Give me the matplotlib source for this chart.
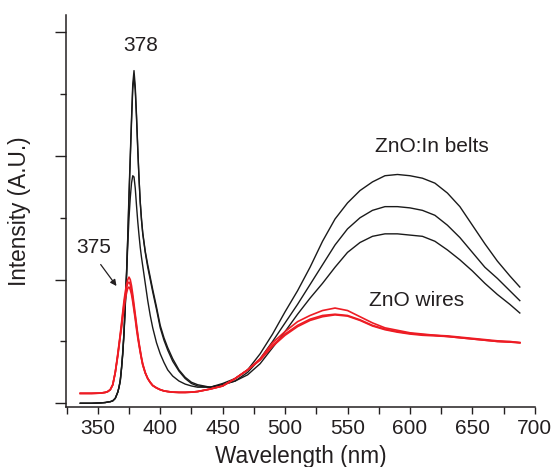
import matplotlib
matplotlib.use("Agg")
import matplotlib.pyplot as plt
from matplotlib.ticker import MultipleLocator

plt.rcParams['font.family'] = ['Liberation Sans', 'DejaVu Sans']

wavelength = [336, 345, 352, 356, 358, 360, 362, 364, 366, 367,
              368, 369, 370, 371, 372, 373, 374, 375, 376, 377,
              378, 379, 380, 381, 382, 383, 384, 385, 386, 388,
              390, 392, 394, 397, 400, 403, 406, 410, 415, 420,
              425, 430, 440, 450, 460, 470, 480, 490, 500, 510,
              520, 530, 540, 550, 560, 570, 580, 590, 600, 610,
              620, 630, 640, 650, 660, 670, 680, 688]

belt_a = [0.0, 0.0, 0.003, 0.006, 0.01, 0.013, 0.02, 0.04, 0.09, 0.13,
          0.18, 0.28, 0.40, 0.57, 0.80, 1.05, 1.35, 1.70, 2.00, 2.30,
          2.58, 2.69, 2.56, 2.33, 2.07, 1.82, 1.62, 1.48, 1.37, 1.22,
          1.10, 1.00, 0.90, 0.76, 0.61, 0.51, 0.43, 0.34, 0.26, 0.20,
          0.16, 0.14, 0.13, 0.16, 0.20, 0.27, 0.40, 0.56, 0.74, 0.91,
          1.10, 1.31, 1.49, 1.62, 1.72, 1.79, 1.84, 1.85, 1.84, 1.82,
          1.78, 1.70, 1.59, 1.44, 1.29, 1.15, 1.03, 0.94]

belt_b = [0.0, 0.0, 0.003, 0.006, 0.01, 0.013, 0.02, 0.04, 0.09, 0.13,
          0.19, 0.29, 0.42, 0.58, 0.80, 1.04, 1.33, 1.66, 1.97, 2.27,
          2.54, 2.64, 2.53, 2.31, 2.05, 1.82, 1.63, 1.49, 1.38, 1.23,
          1.12, 1.02, 0.92, 0.78, 0.63, 0.53, 0.45, 0.36, 0.27, 0.21,
          0.17, 0.15, 0.13, 0.15, 0.18, 0.25, 0.36, 0.50, 0.65, 0.80,
          0.96, 1.12, 1.28, 1.41, 1.50, 1.56, 1.59, 1.59, 1.58, 1.56,
          1.52, 1.44, 1.34, 1.22, 1.10, 1.01, 0.91, 0.83]

belt_c = [0.0, 0.0, 0.003, 0.006, 0.01, 0.013, 0.02, 0.04, 0.09, 0.13,
          0.18, 0.28, 0.40, 0.56, 0.78, 1.02, 1.28, 1.50, 1.66, 1.78,
          1.84, 1.83, 1.74, 1.60, 1.47, 1.36, 1.26, 1.18, 1.11, 0.97,
          0.83, 0.71, 0.61, 0.49, 0.40, 0.33, 0.27, 0.22, 0.18, 0.155,
          0.14, 0.13, 0.13, 0.15, 0.18, 0.23, 0.32, 0.45, 0.58, 0.72,
          0.85, 0.97, 1.10, 1.22, 1.30, 1.35, 1.37, 1.37, 1.36, 1.35,
          1.31, 1.24, 1.16, 1.07, 0.97, 0.88, 0.80, 0.73]

wire_a = [0.08, 0.08, 0.082, 0.088, 0.095, 0.11, 0.15, 0.25, 0.40, 0.48,
          0.56, 0.65, 0.74, 0.83, 0.90, 0.96, 1.00, 1.02, 1.00, 0.95,
          0.88, 0.80, 0.72, 0.64, 0.56, 0.49, 0.43, 0.37, 0.32, 0.25,
          0.20, 0.17, 0.145, 0.125, 0.11, 0.10, 0.095, 0.09, 0.088, 0.088,
          0.09, 0.095, 0.115, 0.14, 0.20, 0.27, 0.36, 0.49, 0.58, 0.66,
          0.71, 0.75, 0.77, 0.75, 0.70, 0.65, 0.61, 0.59, 0.57, 0.56,
          0.55, 0.545, 0.535, 0.525, 0.515, 0.505, 0.50, 0.49]

wire_b = [0.08, 0.08, 0.082, 0.088, 0.095, 0.11, 0.15, 0.25, 0.39, 0.47,
          0.55, 0.63, 0.72, 0.80, 0.87, 0.93, 0.97, 0.98, 0.96, 0.91,
          0.85, 0.77, 0.70, 0.62, 0.55, 0.48, 0.42, 0.36, 0.31, 0.245,
          0.20, 0.168, 0.143, 0.124, 0.11, 0.10, 0.095, 0.09, 0.088, 0.088,
          0.09, 0.095, 0.115, 0.14, 0.20, 0.27, 0.35, 0.46, 0.55, 0.62,
          0.67, 0.70, 0.715, 0.705, 0.67, 0.625, 0.595, 0.575, 0.56, 0.55,
          0.545, 0.54, 0.53, 0.52, 0.51, 0.50, 0.495, 0.49]

wire_c = [0.08, 0.08, 0.082, 0.088, 0.095, 0.11, 0.15, 0.25, 0.38, 0.46,
          0.54, 0.61, 0.69, 0.77, 0.84, 0.89, 0.93, 0.94, 0.92, 0.88,
          0.82, 0.75, 0.68, 0.60, 0.53, 0.47, 0.41, 0.36, 0.31, 0.245,
          0.20, 0.168, 0.143, 0.124, 0.11, 0.10, 0.095, 0.09, 0.088, 0.088,
          0.09, 0.095, 0.115, 0.14, 0.20, 0.27, 0.35, 0.47, 0.56, 0.63,
          0.68, 0.71, 0.72, 0.71, 0.675, 0.63, 0.60, 0.58, 0.565, 0.555,
          0.55, 0.54, 0.53, 0.52, 0.51, 0.50, 0.495, 0.49]

belts = [belt_a, belt_b, belt_c]
wires = [wire_a, wire_b, wire_c]

BLACK = '#1a1a1a'
RED = '#ed1c24'
TEXT = '#231f20'

fig = plt.figure(figsize=(5.6, 4.67), dpi=100)
ax = fig.add_axes([0.118, 0.1285, 0.837, 0.8395])

for s in belts:
    ax.plot(wavelength, s, color=BLACK, lw=1.0)
for s in wires:
    ax.plot(wavelength, s, color=RED, lw=1.2)

ax.set_xlim(324.6, 700)
ax.set_ylim(-0.03, 3.14)

ax.spines['top'].set_visible(False)
ax.spines['right'].set_visible(False)
for sp in ('left', 'bottom'):
    ax.spines[sp].set_linewidth(1.1)
    ax.spines[sp].set_color(TEXT)

ax.xaxis.set_minor_locator(MultipleLocator(25))
ax.yaxis.set_major_locator(MultipleLocator(1))
ax.yaxis.set_minor_locator(MultipleLocator(0.5))
ax.set_xticks([350, 400, 450, 500, 550, 600, 650, 700])
ax.tick_params(axis='x', which='both', direction='out', length=5, width=1, colors=TEXT,
               labelsize=15, pad=4)
ax.tick_params(axis='y', which='major', direction='out', length=8, width=1, colors=TEXT,
               labelleft=False)
ax.tick_params(axis='y', which='minor', direction='out', length=4, width=1, colors=TEXT)

ax.set_xlabel('Wavelength (nm)', fontsize=16.3, color=TEXT, labelpad=5)
ax.set_ylabel('Intensity (A.U.)', fontsize=16.3, color=TEXT, labelpad=17)

ax.text(384.5, 2.89, '378', fontsize=15, color=TEXT, ha='center', va='center')
ax.text(347, 1.26, '375', fontsize=15, color=TEXT, ha='center', va='center')
ax.annotate('', xy=(366.3, 0.93), xytext=(351, 1.14),
            arrowprops=dict(arrowstyle='-|>', color=TEXT, lw=0.9, mutation_scale=9))
ax.text(617.4, 2.08, 'ZnO:In belts', fontsize=15, color=TEXT, ha='center', va='center')
ax.text(605.2, 0.83, 'ZnO wires', fontsize=15, color=TEXT, ha='center', va='center')

fig.savefig('out.png', dpi=100)
